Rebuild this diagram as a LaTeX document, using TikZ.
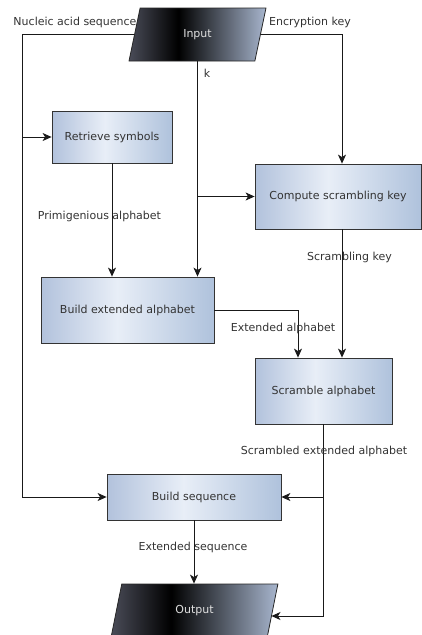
\documentclass[tikz,border=0pt]{standalone}
\usepackage{fontspec}
\setmainfont{DejaVu Sans}
\usetikzlibrary{arrows.meta,shapes.geometric}
\definecolor{ioL}{HTML}{4A4C58}
\definecolor{ioR}{HTML}{A8B6CE}
\definecolor{bxL}{HTML}{B2C2DC}
\definecolor{bxM}{HTML}{E8EEF7}
\definecolor{bxR}{HTML}{AFC2DC}
\definecolor{txt}{HTML}{333333}
\pgfdeclarehorizontalshading{ioshade}{100bp}{color(0bp)=(ioL); color(25bp)=(ioL); color(43bp)=(black); color(75bp)=(ioR); color(100bp)=(ioR)}
\pgfdeclarehorizontalshading{boxshade}{100bp}{color(0bp)=(bxL); color(25bp)=(bxL); color(47bp)=(bxM); color(75bp)=(bxR); color(100bp)=(bxR)}
\tikzset{
  box/.style={draw=black!80, line width=0.8pt, shading=boxshade, rectangle, text=txt, inner sep=0pt},
  io/.style={draw=black!85, line width=0.8pt, shading=ioshade, trapezium, trapezium left angle=75, trapezium right angle=105, trapezium stretches=true, text=white!88!black, inner sep=0pt},
  lbl/.style={text=txt, inner sep=0pt},
  arr/.style={draw=black!90, line width=0.8pt, -{Stealth[length=9pt,width=8pt,inset=2.5pt]}}
}
\begin{document}
\begin{tikzpicture}[x=1pt,y=-1pt,font=\fontsize{11}{13}\selectfont]
\useasboundingbox (0,0) rectangle (422,635);
\clip (0,0) rectangle (422,635);
% nodes
\node[io, minimum width=137pt, minimum height=53pt] (in) at (197.5,34.5) {Input};
\node[box, minimum width=120pt, minimum height=52pt] (rs) at (112,137) {Retrieve symbols};
\node[box, minimum width=166pt, minimum height=65pt] (cs) at (338,196.5) {Compute scrambling key};
\node[box, minimum width=173pt, minimum height=66pt] (be) at (127.5,310) {Build extended alphabet};
\node[box, minimum width=137pt, minimum height=66pt] (sa) at (323.5,391) {Scramble alphabet};
\node[box, minimum width=174pt, minimum height=46pt] (bs) at (194,497) {Build sequence};
\node[io, minimum width=167pt, minimum height=53pt] (out) at (194.5,610.5) {Output};
% helper coordinates
\coordinate (lx) at (22.5,300);
\coordinate (kx) at (342,300);
\coordinate (ob) at (323.5,616);
% connectors
\draw[arr] (in.west) -- (in.west -| lx) -- (lx |- bs.west) -- (bs.west);
\draw[arr] (lx |- rs.west) -- (rs.west);
\draw[arr] (in.east) -- (in.east -| kx) -- (kx |- cs.north);
\draw[arr] (in.south) -- (in.south |- be.north);
\draw[arr] (in.south |- cs.west) -- (cs.west);
\draw[arr] (rs.south) -- (rs.south |- be.north);
\draw[arr] (be.east) -| ([xshift=-25.5pt]sa.north);
\draw[arr] (kx |- cs.south) -- (kx |- sa.north);
\draw[arr] (sa.south) |- ([xshift=-1.5pt]out.east |- ob);
\draw[arr] (sa.south |- bs.east) -- (bs.east);
\draw[arr] (bs.south) -- (bs.south |- out.north);
% labels
\node[lbl] (lnuc) at (75,22) {Nucleic acid sequence};
\node[lbl] (lenc) at (310,22) {Encryption key};
\node[lbl] (lk) at (207,73) {k};
\node[lbl] (lprim) at (99.5,216) {Primigenious alphabet};
\node[lbl] (lsk) at (349.5,257) {Scrambling key};
\node[lbl] (lext) at (283,328) {Extended alphabet};
\node[lbl] (lsea) at (324,451) {Scrambled extended alphabet};
\node[lbl] (lseq) at (193,547) {Extended sequence};
\end{tikzpicture}
\end{document}
